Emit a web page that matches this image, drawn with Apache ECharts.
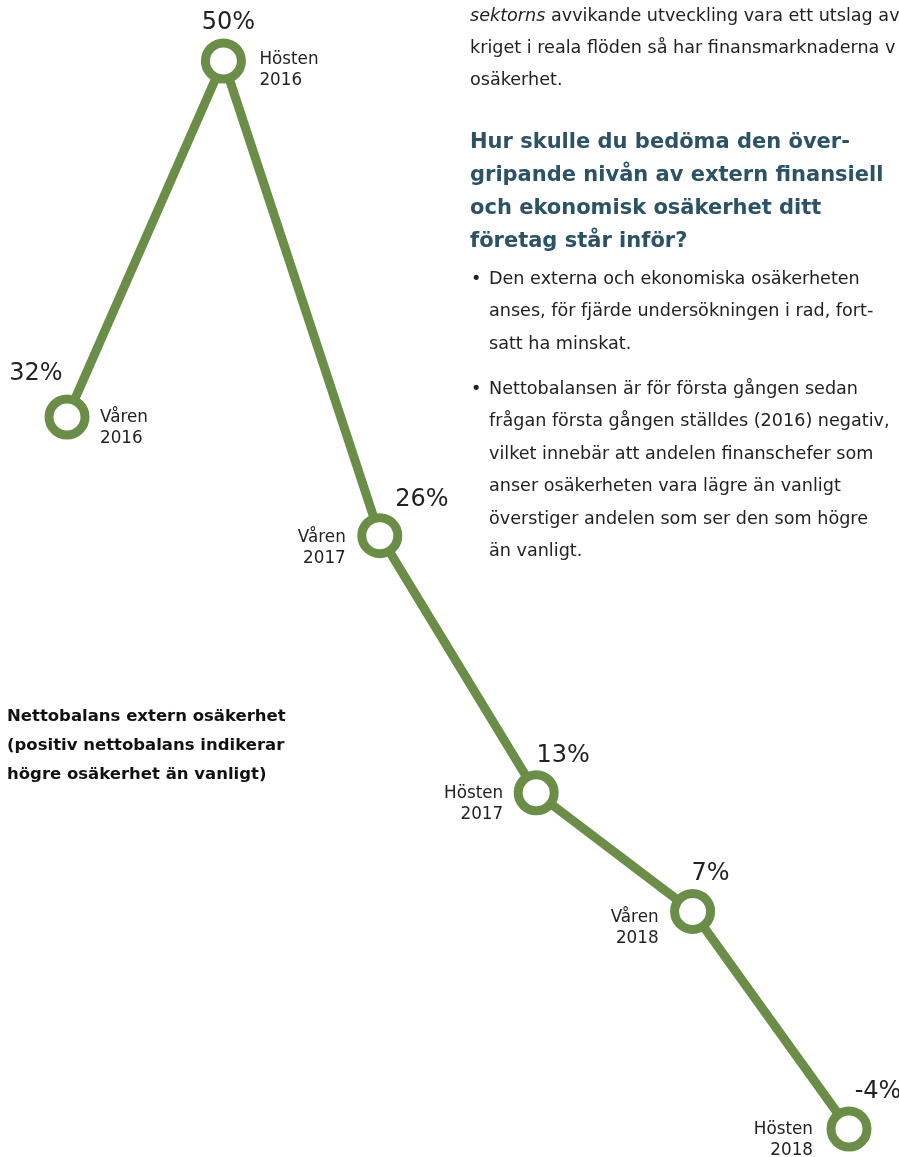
<!DOCTYPE html>
<html>
<head>
<meta charset="utf-8">
<script src="https://cdn.jsdelivr.net/npm/echarts@6/dist/echarts.min.js"></script>
<style>
  html, body { margin: 0; padding: 0; background: #ffffff; }
  #chart { width: 899px; height: 1157px; }
</style>
</head>
<body>
<div id="chart"></div>
<script>
// Survey rounds and net balance (%) of external uncertainty
const categories = ['Våren 2016', 'Hösten 2016', 'Våren 2017', 'Hösten 2017', 'Våren 2018', 'Hösten 2018'];
const values = [32, 50, 26, 13, 7, -4];

// Label placement around each marker: [dx, dy] from the marker centre
const valueLabelOffsets = [[-31, -43], [5, -38], [42, -36], [27, -37], [18, -38], [29, -37]];
const nameLabelOffsets = [[33, 11], [36, 9], [-34, 12], [-33, 11], [-34, 17], [-36, 11]];
const nameLabelAlign = ['left', 'left', 'right', 'right', 'right', 'right'];

const GREEN = '#6a8d48';
const INK = '#222222';
const HEAD = '#2c5266';
const SANS = '"DejaVu Sans", sans-serif';

const introLines = [
  '{i|sektorns} avvikande utveckling vara ett utslag av',
  'kriget i reala flöden så har finansmarknaderna v',
  'osäkerhet.'
];
const headingLines = [
  'Hur skulle du bedöma den över-',
  'gripande nivån av extern finansiell',
  'och ekonomisk osäkerhet ditt',
  'företag står inför?'
];
const bullet1 = [
  'Den externa och ekonomiska osäkerheten',
  'anses, för fjärde undersökningen i rad, fort-',
  'satt ha minskat.'
];
const bullet2 = [
  'Nettobalansen är för första gången sedan',
  'frågan första gången ställdes (2016) negativ,',
  'vilket innebär att andelen finanschefer som',
  'anser osäkerheten vara lägre än vanligt',
  'överstiger andelen som ser den som högre',
  'än vanligt.'
];
const chartTitle = [
  'Nettobalans extern osäkerhet',
  '(positiv nettobalans indikerar',
  'högre osäkerhet än vanligt)'
];

const BODY_SIZE = 17.6;

const chart = echarts.init(document.getElementById('chart'), null, { renderer: 'canvas' });

function bodyText(x, y, lines, lh) {
  return {
    type: 'text', x: x, y: y, silent: true,
    style: {
      text: lines.join('\n'), fill: INK, fontFamily: SANS, fontSize: BODY_SIZE,
      fontWeight: 400, lineHeight: lh
    }
  };
}

chart.setOption({
  animation: false,
  backgroundColor: '#ffffff',
  grid: { left: 67, right: 50, top: 61, bottom: 28 },
  xAxis: { type: 'category', data: categories, boundaryGap: false, show: false },
  yAxis: { type: 'value', min: -4, max: 50, show: false },
  series: [
    {
      type: 'line',
      data: values.map((v, i) => ({ value: v, label: { offset: valueLabelOffsets[i] } })),
      symbol: 'circle',
      symbolSize: 36,
      showAllSymbol: true,
      lineStyle: { color: GREEN, width: 9 },
      itemStyle: { color: '#ffffff', borderColor: GREEN, borderWidth: 9 },
      label: {
        show: true, position: 'inside', align: 'center', verticalAlign: 'middle',
        formatter: p => p.value + '%',
        color: INK, fontFamily: SANS, fontSize: 24, fontWeight: 400,
        textBorderWidth: 0
      },
      emphasis: { disabled: true },
      z: 2
    },
    {
      type: 'scatter',
      data: values.map((v, i) => ({
        value: v,
        label: { offset: nameLabelOffsets[i], align: nameLabelAlign[i] }
      })),
      symbolSize: 1,
      itemStyle: { color: 'transparent', opacity: 1 },
      label: {
        show: true, position: 'inside', verticalAlign: 'middle', opacity: 1,
        formatter: p => categories[p.dataIndex].replace(' ', '\n'),
        color: INK, fontFamily: SANS, fontSize: 16.8, fontWeight: 400, lineHeight: 21,
        textBorderWidth: 0
      },
      emphasis: { disabled: true },
      silent: true,
      z: 3
    }
  ],
  graphic: [
    {
      type: 'text', x: 470, y: 0, silent: true,
      style: {
        text: introLines.join('\n'), fill: INK, fontFamily: SANS, fontSize: BODY_SIZE,
        lineHeight: 32,
        rich: { i: { fontStyle: 'italic', fontFamily: SANS, fontSize: BODY_SIZE, lineHeight: 32, fill: INK } }
      }
    },
    {
      type: 'text', x: 470, y: 126, silent: true,
      style: {
        text: headingLines.join('\n'), fill: HEAD, fontFamily: SANS, fontSize: 21,
        fontWeight: 700, lineHeight: 33
      }
    },
    bodyText(471, 263, ['•'], 32.5),
    bodyText(489, 263, bullet1, 32.5),
    bodyText(471, 373, ['•'], 32.5),
    bodyText(489, 373, bullet2, 32.5),
    {
      type: 'text', x: 7, y: 702.5, silent: true,
      style: {
        text: chartTitle.join('\n'), fill: '#111111', fontFamily: SANS,
        fontSize: 16.5, fontWeight: 700, lineHeight: 29
      }
    }
  ]
});
</script>
</body>
</html>
